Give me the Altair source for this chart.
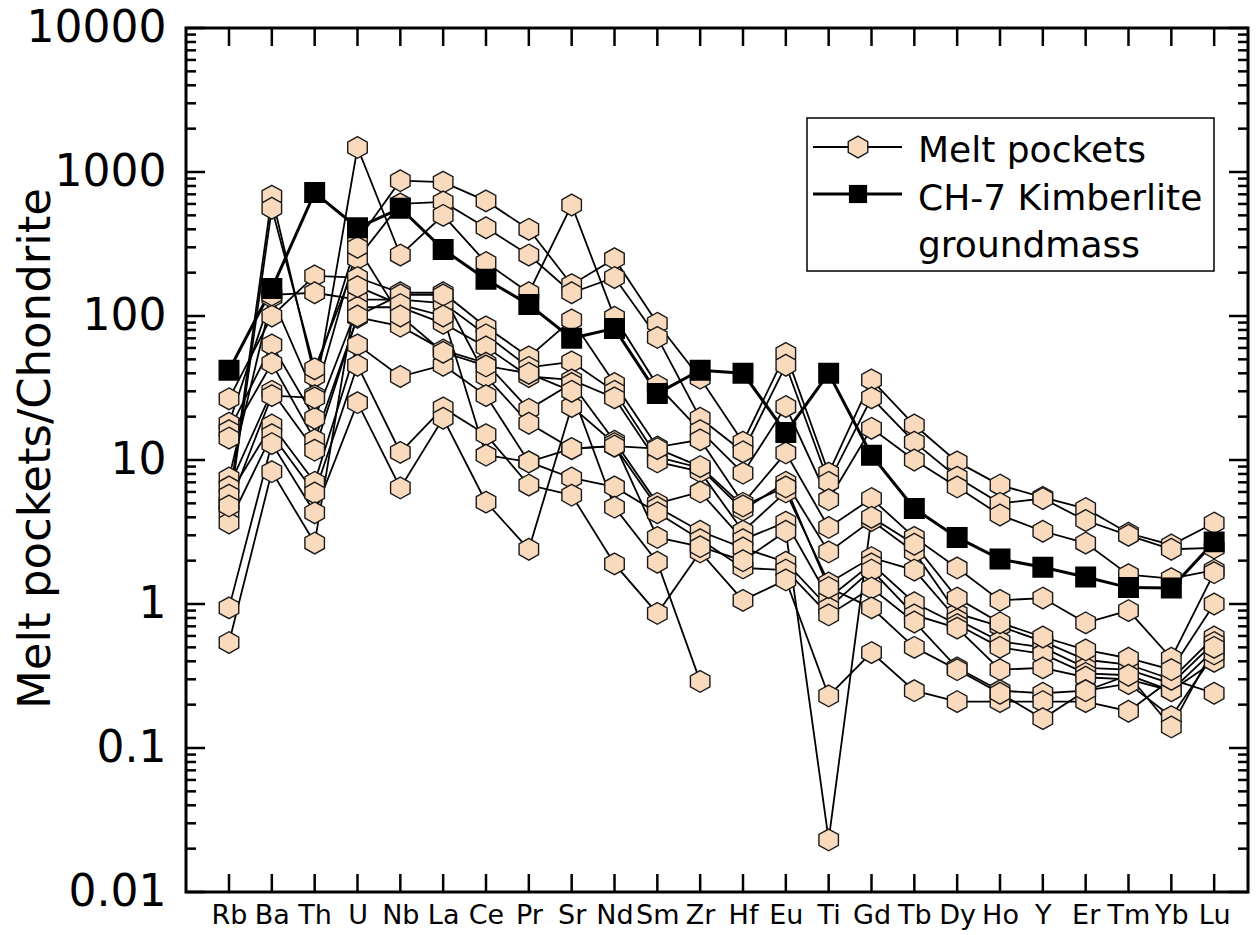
import json
import altair as alt
import pandas as pd

ELEMENTS = ["Rb", "Ba", "Th", "U", "Nb", "La", "Ce", "Pr", "Sr", "Nd", "Sm", "Zr",
            "Hf", "Eu", "Ti", "Gd", "Tb", "Dy", "Ho", "Y", "Er", "Tm", "Yb", "Lu"]

KIMBERLITE = [42, 155, 720, 410, 560, 290, 180, 120, 70, 82, 29, 42,
              40, 15.5, 40, 10.8, 4.6, 2.9, 2.05, 1.8, 1.54, 1.3, 1.29, 2.7]

MP_H1 = [5.0, 680, 38, 335, 870, 850, 630, 400, 165, 250, 89, 37,
         13.3, 55, 8.1, 36, 17.5, 9.7, 6.7, 5.5, 4.6, 3.1, 2.57, 3.65]
MP_H2 = [4.4, 560, 43, 250, 600, 620, 410, 265, 145, 185, 71, 19.5,
         11.4, 45.5, 7.0, 27, 13.3, 7.6, 5.0, 5.4, 3.8, 3.0, 2.4, 2.45]
MP_H3 = [7.5, 135, 28, 1480, 265, 500, 235, 145, 590, 98, 33, 16,
         8.1, 23.5, 5.3, 16.6, 10, 6.5, 4.15, 3.2, 2.65, 1.6, 1.5, 1.72]
MP_M1 = [26.6, 100, 190, 185, 145, 145, 84, 52, 94, 34, 12.3, 13.8,
         5.0, 11.2, 3.4, 5.4, 2.9, 1.78, 1.06, 1.1, 0.74, 0.9, 0.42, 1.65]
MP_M2 = [18, 140, 145, 130, 130, 123, 74, 44, 48, 30, 10.5, 8.8,
         4.5, 7.0, 2.3, 3.8, 2.3, 0.86, 0.7, 0.55, 0.41, 0.38, 0.3, 0.59]
MP_M3 = [16, 63, 19.5, 115, 115, 89, 61, 38, 36, 27, 9.7, 8.3,
         3.2, 6.0, 1.4, 2.1, 1.72, 0.78, 0.55, 0.5, 0.36, 0.35, 0.28, 0.54]
MP_M4 = [14.2, 47, 13.8, 98, 85, 58, 47, 22.5, 34, 13.5, 5.0, 6.0,
         2.8, 3.7, 1.1, 1.9, 1.02, 0.72, 0.5, 0.45, 0.33, 0.32, 0.25, 0.48]
MP_M5 = [6.5, 30, 11.7, 100, 140, 140, 38, 18, 12, 12.5, 4.7, 3.2,
         2.45, 1.95, 0.94, 1.72, 0.84, 0.68, 0.35, 0.36, 0.31, 0.3, 0.25, 0.4]
MP_M6 = [5.7, 17.5, 7.0, 63, 38, 45.5, 28, 9.7, 7.5, 6.5, 4.3, 2.8,
         1.78, 1.72, 0.84, 1.29, 0.75, 0.36, 0.25, 0.24, 0.25, 0.28, 0.165, 0.45]
MP_M7 = [3.65, 15, 5.9, 45.5, 11.3, 23, 15, 6.7, 5.7, 1.9, 0.86, 2.3,
         1.06, 1.47, 0.23, 0.46, 0.25, 0.21, 0.21, 0.21, 0.21, 0.18, 0.3, 0.24]
MP_M8 = [0.94, 13, 4.3, 25, 6.4, 19.5, 5.1, 2.4, 23.5, 13, 2.9, 2.5,
         2.0, 3.2, 0.023, 4.0, 2.6, 1.1, 0.74, 0.59, 0.48, 0.42, 0.35, 1.0]
MP_M9 = [0.54, 8.3, 2.65, 160, 120, 100, 10.8, 9.7, 12, 12.5, 12, 9.0,
         4.8, 6.5, 1.3, 0.94, 0.5, 0.35, 0.24, 0.16, 0.25, 0.32, 0.14, 0.5]
MP_Z = [4.8, 28, 27, 300, 100, 56, 45, 40, 30, 4.7, 1.95, 0.29,
        None, None, None, None, None, None, None, None, None, None, None, None]

MELT = {"H1": MP_H1, "H2": MP_H2, "H3": MP_H3, "M1": MP_M1, "M2": MP_M2,
        "M3": MP_M3, "M4": MP_M4, "M5": MP_M5, "M6": MP_M6, "M7": MP_M7,
        "M8": MP_M8, "M9": MP_M9, "Z": MP_Z}

Y_MAJOR = [0.01, 0.1, 1, 10, 100, 1000, 10000]
Y_MINOR = [m * 10.0 ** k for k in range(-2, 4) for m in range(2, 10)]

# ---- tables ----
melt_rows = []
for s_i, (name, vals) in enumerate(MELT.items()):
    for i, v in enumerate(vals):
        if v is not None:
            melt_rows.append({"s": name, "so": s_i, "i": i, "v": v})
melt_df = pd.DataFrame(melt_rows)
kim_df = pd.DataFrame({"i": list(range(len(ELEMENTS))), "v": KIMBERLITE})
ymaj_df = pd.DataFrame({"v": Y_MAJOR})
ymin_df = pd.DataFrame({"v": Y_MINOR})
xt_df = pd.DataFrame({"i": list(range(len(ELEMENTS)))})

W, H = 1062, 864
FONT = "DejaVu Sans"
HEX = "M0,-1L0.9,-0.5L0.9,0.5L0,1L-0.9,0.5L-0.9,-0.5Z"
PEACH = "#FADABC"

xscale = alt.Scale(domain=[-1.004, 23.79], nice=False, zero=False)
yscale = alt.Scale(type="log", domain=[0.01, 10000], nice=False)

xaxis = alt.Axis(values=list(range(len(ELEMENTS))),
                 labelExpr=json.dumps(ELEMENTS) + "[datum.value]",
                 ticks=False, domain=False, grid=False, title=None,
                 labelFont=FONT, labelFontSize=27, labelColor="black",
                 labelPadding=10, labelOverlap=False, labelFlush=False)
yaxis = alt.Axis(values=Y_MAJOR, format="~g", ticks=False, domain=False, grid=False,
                 labelFont=FONT, labelFontSize=44, labelColor="black",
                 labelPadding=20, labelOverlap=False, labelFlush=False,
                 title="Melt pockets/Chondrite", titleFont=FONT, titleFontSize=45,
                 titleFontWeight="normal", titleColor="black", titleAngle=270,
                 titleX=-137, titleY=420, titleAlign="center",
                 titleBaseline="alphabetic")

X = alt.X("i:Q", scale=xscale, axis=xaxis)
Y = alt.Y("v:Q", scale=yscale, axis=yaxis)

melt_lines = alt.Chart(melt_df).mark_line(color="black", strokeWidth=1.8).encode(
    x=X, y=Y, detail="s:N", order="i:Q")
kim_line = alt.Chart(kim_df).mark_line(color="black", strokeWidth=3).encode(
    x=X, y=Y, order="i:Q")
melt_pts = alt.Chart(melt_df).mark_point(
    shape=HEX, size=470, filled=True, fill=PEACH, stroke="#1a1a1a",
    strokeWidth=1.4, opacity=1).encode(x=X, y=Y, order="so:Q")
kim_pts = alt.Chart(kim_df).mark_point(
    shape="square", size=360, filled=True, fill="black", stroke="black",
    opacity=1).encode(x=X, y=Y)

tick_style = dict(color="black", strokeWidth=2.5)
yl_maj = alt.Chart(ymaj_df).mark_rule(**tick_style).encode(
    y=Y, x=alt.value(0), x2=alt.value(19))
yl_min = alt.Chart(ymin_df).mark_rule(**tick_style).encode(
    y=Y, x=alt.value(0), x2=alt.value(10))
yr_maj = alt.Chart(ymaj_df).mark_rule(**tick_style).encode(
    y=Y, x=alt.value(W - 19), x2=alt.value(W))
yr_min = alt.Chart(ymin_df).mark_rule(**tick_style).encode(
    y=Y, x=alt.value(W - 10), x2=alt.value(W))
xb = alt.Chart(xt_df).mark_rule(**tick_style).encode(
    x=X, y=alt.value(H - 18), y2=alt.value(H))
xt = alt.Chart(xt_df).mark_rule(**tick_style).encode(
    x=X, y=alt.value(0), y2=alt.value(18))

# ---- legend ----
one = alt.Data(values=[{"k": 0}])
lg_box = alt.Chart(one).mark_rect(fill="white", stroke="black", strokeWidth=1.5).encode(
    x=alt.value(621), x2=alt.value(1028), y=alt.value(90), y2=alt.value(243))
lg_l1 = alt.Chart(one).mark_rule(color="black", strokeWidth=1.8).encode(
    x=alt.value(627), x2=alt.value(716), y=alt.value(119))
lg_l2 = alt.Chart(one).mark_rule(color="black", strokeWidth=3).encode(
    x=alt.value(627), x2=alt.value(716), y=alt.value(166))
lg_p1 = alt.Chart(one).mark_point(shape=HEX, size=470, filled=True, fill=PEACH,
                                  stroke="#1a1a1a", strokeWidth=1.4, opacity=1).encode(
    x=alt.value(672), y=alt.value(119))
lg_p2 = alt.Chart(one).mark_point(shape="square", size=330, filled=True, fill="black",
                                  opacity=1).encode(
    x=alt.value(672), y=alt.value(166))
txt = dict(align="left", baseline="alphabetic", font=FONT, fontSize=36, color="black")
lg_t1 = alt.Chart(one).mark_text(**txt).encode(
    x=alt.value(732), y=alt.value(134), text=alt.value("Melt pockets"))
lg_t2 = alt.Chart(one).mark_text(**txt).encode(
    x=alt.value(732), y=alt.value(182), text=alt.value("CH-7 Kimberlite"))
lg_t3 = alt.Chart(one).mark_text(**txt).encode(
    x=alt.value(732), y=alt.value(229), text=alt.value("groundmass"))

chart = alt.layer(
    melt_lines, kim_line, melt_pts, kim_pts,
    yl_maj, yl_min, yr_maj, yr_min, xb, xt,
    lg_box, lg_l1, lg_l2, lg_p1, lg_p2, lg_t1, lg_t2, lg_t3,
).properties(
    width=W, height=H,
    padding={"left": 186, "top": 28, "right": 9, "bottom": 43},
    autosize=alt.AutoSizeParams(type="none"),
    background="white",
).configure_view(stroke="black", strokeWidth=3)

chart.save("out.html", embed_options={"renderer": "svg", "actions": False})
